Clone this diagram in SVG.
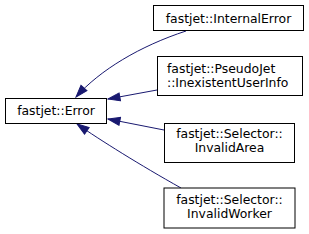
<svg xmlns="http://www.w3.org/2000/svg" width="309" height="234" viewBox="0 0 309 234">
<style>
.box{fill:#fff;stroke:#000;stroke-width:1}
.t{font-family:"DejaVu Sans",sans-serif;font-size:12.4px;fill:#000}
.e{fill:none;stroke:#191970;stroke-width:1}
</style>
<defs>
<marker id="ah" markerUnits="userSpaceOnUse" markerWidth="14" markerHeight="10" refX="13" refY="5" orient="auto">
<path d="M1,1 L13,5 L1,9 z" fill="#191970" stroke="#191970"/>
</marker>
</defs>
<rect width="309" height="234" fill="#fff"/>
<g id="connectors">
<path class="e" d="M186,31 C140,46 100,70 76,97" marker-end="url(#ah)"/>
<path class="e" d="M157,90 L108,99" marker-end="url(#ah)"/>
<path class="e" d="M164,130 L108,119" marker-end="url(#ah)"/>
<path class="e" d="M181,188 C140,165 100,140 77,124" marker-end="url(#ah)"/>
</g>
<g id="error">
<rect class="box" x="5.5" y="98.5" width="101" height="25"/>
<text class="t" x="56" y="114.5" text-anchor="middle">fastjet::Error</text>
</g>
<g id="internalerror">
<rect class="box" x="153.5" y="5.5" width="150" height="25"/>
<text class="t" x="228.5" y="22.5" text-anchor="middle">fastjet::InternalError</text>
</g>
<g id="inexistentuserinfo">
<rect class="box" x="157.5" y="56.5" width="145" height="39"/>
<text class="t" x="167" y="73">fastjet::PseudoJet</text>
<text class="t" x="167" y="87">::InexistentUserInfo</text>
</g>
<g id="invalidarea">
<rect class="box" x="164.5" y="123.5" width="130" height="39"/>
<text class="t" x="229.5" y="137.5" text-anchor="middle">fastjet::Selector::</text>
<text class="t" x="229.5" y="151.5" text-anchor="middle">InvalidArea</text>
</g>
<g id="invalidworker">
<rect class="box" x="164" y="188" width="131" height="40"/>
<text class="t" x="229.5" y="203.5" text-anchor="middle">fastjet::Selector::</text>
<text class="t" x="229.5" y="217.5" text-anchor="middle">InvalidWorker</text>
</g>
</svg>
